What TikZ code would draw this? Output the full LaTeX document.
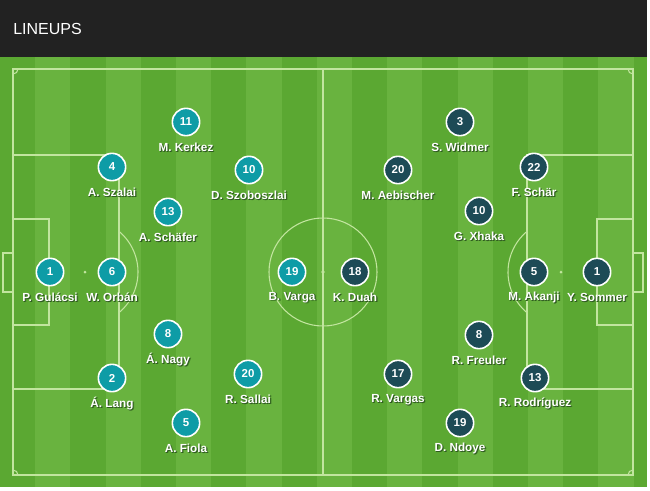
\documentclass[tikz,border=0pt]{standalone}
\usepackage{fontspec}
\setmainfont{Liberation Sans}
\definecolor{headbg}{HTML}{222222}
\definecolor{grassdark}{HTML}{5BA832}
\definecolor{grasslight}{HTML}{69B33F}
\definecolor{pitchline}{HTML}{C2E59F}
\definecolor{hunteal}{HTML}{0E9CA6}
\definecolor{suiblue}{HTML}{1D4B56}
\definecolor{txtshadow}{HTML}{2F5A20}
\definecolor{txtshadowb}{HTML}{45822A}
\newcommand{\shtxt}[1]{\rlap{\hspace{1.1pt}\raisebox{-1.1pt}{\color{txtshadowb}#1}}\rlap{\hspace{0.6pt}\raisebox{-0.7pt}{\color{txtshadow}#1}}#1}

\begin{document}
\begin{tikzpicture}[x=0.75pt,y=-0.75pt]

\tikzset{
  pline/.style={draw=pitchline,line width=0.8pt},
  hun/.style={circle,draw=white,line width=1.2pt,fill=hunteal,minimum size=20.5pt,
    inner sep=0pt,text=white,font=\fontsize{8.6}{10}\selectfont\bfseries},
  sui/.style={hun,fill=suiblue},
  pname/.style={inner sep=0pt,text=white,font=\fontsize{8.8}{10}\selectfont\bfseries}
}
  \useasboundingbox (0,0) rectangle (650,490);
  \fill[white] (0,0) rectangle (650,490);

  % header
  \fill[headbg] (0,0) rectangle (647,57);
  \node[anchor=west,text=white,font=\fontsize{12}{14}\selectfont,inner sep=0pt] (title) at (13,29) {LINEUPS};

  % grass
  \fill[grassdark] (0,57) rectangle (647,487);
  \fill[grasslight] (35.2,57) rectangle (70.4,487);
  \fill[grasslight] (105.6,57) rectangle (140.8,487);
  \fill[grasslight] (176,57) rectangle (211.2,487);
  \fill[grasslight] (246.4,57) rectangle (281.6,487);
  \fill[grasslight] (316.8,57) rectangle (352,487);
  \fill[grasslight] (387.2,57) rectangle (422.4,487);
  \fill[grasslight] (457.6,57) rectangle (492.8,487);
  \fill[grasslight] (528,57) rectangle (563.2,487);
  \fill[grasslight] (598.4,57) rectangle (633.6,487);

  % pitch markings
  \draw[pline] (13,69) rectangle (633,475);
  \draw[pline] (323,69) -- (323,475);
  \draw[pline] (323,272) circle[radius=54];
  \fill[pitchline] (323,272) circle[radius=1.8];
  \draw[pline] (13,155) rectangle (119,389);
  \draw[pline] (527,155) rectangle (633,389);
  \draw[pline] (13,219) rectangle (49,325);
  \draw[pline] (597,219) rectangle (633,325);
  \draw[pline] (3,253) rectangle (13,292);
  \draw[pline] (633,253) rectangle (643,292);
  \fill[pitchline] (85,272) circle[radius=1.5];
  \fill[pitchline] (561,272) circle[radius=1.5];
  \draw[pline] (85,272) ++(-50:53) arc[start angle=-50,end angle=50,radius=53];
  \draw[pline] (561,272) ++(130:53) arc[start angle=130,end angle=230,radius=53];
  \draw[pline] (18,69) arc[start angle=0,end angle=90,radius=5];
  \draw[pline] (628,69) arc[start angle=180,end angle=90,radius=5];
  \draw[pline] (13,470) arc[start angle=-90,end angle=0,radius=5];
  \draw[pline] (633,470) arc[start angle=270,end angle=180,radius=5];

  % Hungary
  \node[hun] (h1) at (50,272) {1};
  \node[hun] (h6) at (112,272) {6};
  \node[hun] (h4) at (112,167) {4};
  \node[hun] (h2) at (112,378) {2};
  \node[hun] (h13) at (168,212) {13};
  \node[hun] (h8) at (168,334) {8};
  \node[hun] (h11) at (186,122) {11};
  \node[hun] (h5) at (186,423) {5};
  \node[hun] (h10) at (249,170) {10};
  \node[hun] (h20) at (248,374) {20};
  \node[hun] (h19) at (292,272) {19};

  \node[pname] (h1n) at (50,298) {\shtxt{P. Gulácsi}};
  \node[pname] (h6n) at (112,298) {\shtxt{W. Orbán}};
  \node[pname] (h4n) at (112,193) {\shtxt{A. Szalai}};
  \node[pname] (h2n) at (112,404) {\shtxt{Á. Lang}};
  \node[pname] (h13n) at (168,238) {\shtxt{A. Schäfer}};
  \node[pname] (h8n) at (168,360) {\shtxt{Á. Nagy}};
  \node[pname] (h11n) at (186,148) {\shtxt{M. Kerkez}};
  \node[pname] (h5n) at (186,449) {\shtxt{A. Fiola}};
  \node[pname] (h10n) at (249,196) {\shtxt{D. Szoboszlai}};
  \node[pname] (h20n) at (248,400) {\shtxt{R. Sallai}};
  \node[pname] (h19n) at (292,298) {\shtxt{B. Varga}};

  % Switzerland
  \node[sui] (s1) at (597,272) {1};
  \node[sui] (s5) at (534,272) {5};
  \node[sui] (s22) at (534,167) {22};
  \node[sui] (s13) at (535,378) {13};
  \node[sui] (s10) at (479,211) {10};
  \node[sui] (s8) at (479,335) {8};
  \node[sui] (s3) at (460,122) {3};
  \node[sui] (s19) at (460,423) {19};
  \node[sui] (s20) at (398,170) {20};
  \node[sui] (s17) at (398,374) {17};
  \node[sui] (s18) at (355,272) {18};

  \node[pname] (s1n) at (597,298) {\shtxt{Y. Sommer}};
  \node[pname] (s5n) at (534,298) {\shtxt{M. Akanji}};
  \node[pname] (s22n) at (534,193) {\shtxt{F. Schär}};
  \node[pname] (s13n) at (535,404) {\shtxt{R. Rodríguez}};
  \node[pname] (s10n) at (479,237) {\shtxt{G. Xhaka}};
  \node[pname] (s8n) at (479,361) {\shtxt{R. Freuler}};
  \node[pname] (s3n) at (460,148) {\shtxt{S. Widmer}};
  \node[pname] (s19n) at (460,449) {\shtxt{D. Ndoye}};
  \node[pname] (s20n) at (398,196) {\shtxt{M. Aebischer}};
  \node[pname] (s17n) at (398,400) {\shtxt{R. Vargas}};
  \node[pname] (s18n) at (355,298) {\shtxt{K. Duah}};

\end{tikzpicture}
\end{document}
